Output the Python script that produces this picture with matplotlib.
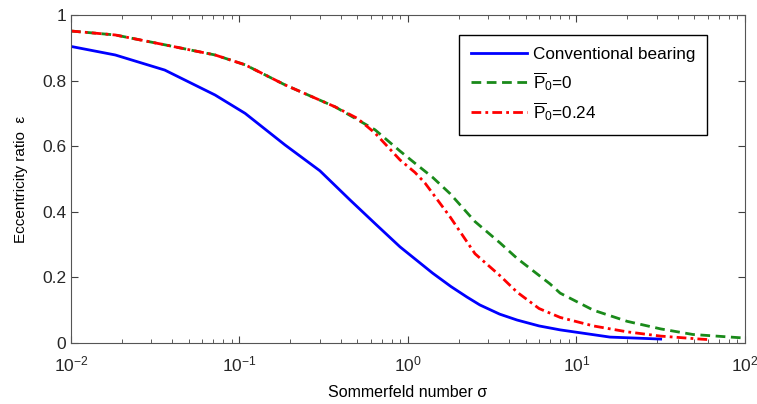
import matplotlib.pyplot as plt
import numpy as np

plt.rcParams['font.family'] = ['Liberation Sans', 'DejaVu Sans']
plt.rcParams['mathtext.fontset'] = 'custom'
plt.rcParams['mathtext.rm'] = 'Liberation Sans'
plt.rcParams['mathtext.it'] = 'Liberation Sans'

# Values (Sommerfeld number vs eccentricity ratio)
conv_x = [0.01, 0.0183, 0.036, 0.0716, 0.108, 0.186, 0.3, 0.453, 0.65, 0.897, 1.4, 1.8, 2.24, 2.67, 3.5, 4.44, 6.0, 8.0, 15.8, 31.6]
conv_y = [0.904, 0.878, 0.832, 0.756, 0.70, 0.604, 0.525, 0.436, 0.36, 0.293, 0.213, 0.172, 0.14, 0.116, 0.088, 0.07, 0.052, 0.04, 0.018, 0.012]

p0_x = [0.01, 0.0183, 0.036, 0.0716, 0.108, 0.186, 0.369, 0.637, 0.897, 1.1, 1.4, 1.78, 2.5, 3.52, 4.44, 6.97, 8.0, 12.6, 20.0, 31.6, 49.0, 100.0]
p0_y = [0.951, 0.939, 0.909, 0.878, 0.848, 0.787, 0.72, 0.65, 0.585, 0.548, 0.505, 0.455, 0.37, 0.305, 0.258, 0.18, 0.152, 0.10, 0.066, 0.043, 0.026, 0.015]

p24_x = [0.01, 0.0183, 0.036, 0.0716, 0.108, 0.186, 0.369, 0.5, 0.637, 0.897, 1.1, 1.26, 1.78, 2.5, 3.52, 4.44, 6.0, 8.0, 12.6, 20.0, 31.6, 54.0, 62.0]
p24_y = [0.951, 0.939, 0.909, 0.878, 0.848, 0.787, 0.72, 0.685, 0.64, 0.558, 0.52, 0.488, 0.384, 0.272, 0.205, 0.155, 0.105, 0.078, 0.052, 0.034, 0.021, 0.012, 0.01]

fig = plt.figure(figsize=(7.57, 4.04), dpi=100)
ax = fig.add_axes([0.0938, 0.151, 0.8903, 0.812])

ax.semilogx(conv_x, conv_y, color='#0000ff', lw=2, label='Conventional bearing')
ax.semilogx(p0_x, p0_y, color='#1a8a1a', lw=2, ls='--', dashes=(3.5, 2), label=r'$\overline{\mathrm{P}}_0$=0')
ax.semilogx(p24_x, p24_y, color='#ff0000', lw=2, ls='-.', dashes=(3.5, 1.5, 1, 1.5), label=r'$\overline{\mathrm{P}}_0$=0.24')

ax.set_xlim(1e-2, 1e2)
ax.set_ylim(0, 1)
ax.set_yticks([0, 0.2, 0.4, 0.6, 0.8, 1])
ax.set_yticklabels(['0', '0.2', '0.4', '0.6', '0.8', '1'])
ax.tick_params(which='both', direction='in', top=True, right=True, labelsize=12.5,
               colors='#404040', labelcolor='#262626')
ax.tick_params(which='major', length=5)
ax.tick_params(which='minor', length=3)
ax.tick_params(axis='x', which='both', pad=8)
for s in ax.spines.values():
    s.set_color('#555555')

ax.set_xlabel('Sommerfeld number σ', fontsize=11.5, labelpad=8)
ax.set_ylabel('Eccentricity ratio  ε', fontsize=11, labelpad=10)

leg = ax.legend(loc='upper right', bbox_to_anchor=(0.944, 0.939), fontsize=12.3,
                handlelength=3.3, fancybox=False, framealpha=1, edgecolor='black',
                borderaxespad=0, borderpad=0.7, labelspacing=0.45, handletextpad=0.35)
leg.get_frame().set_linewidth(1)

plt.savefig('out.png', dpi=100)
